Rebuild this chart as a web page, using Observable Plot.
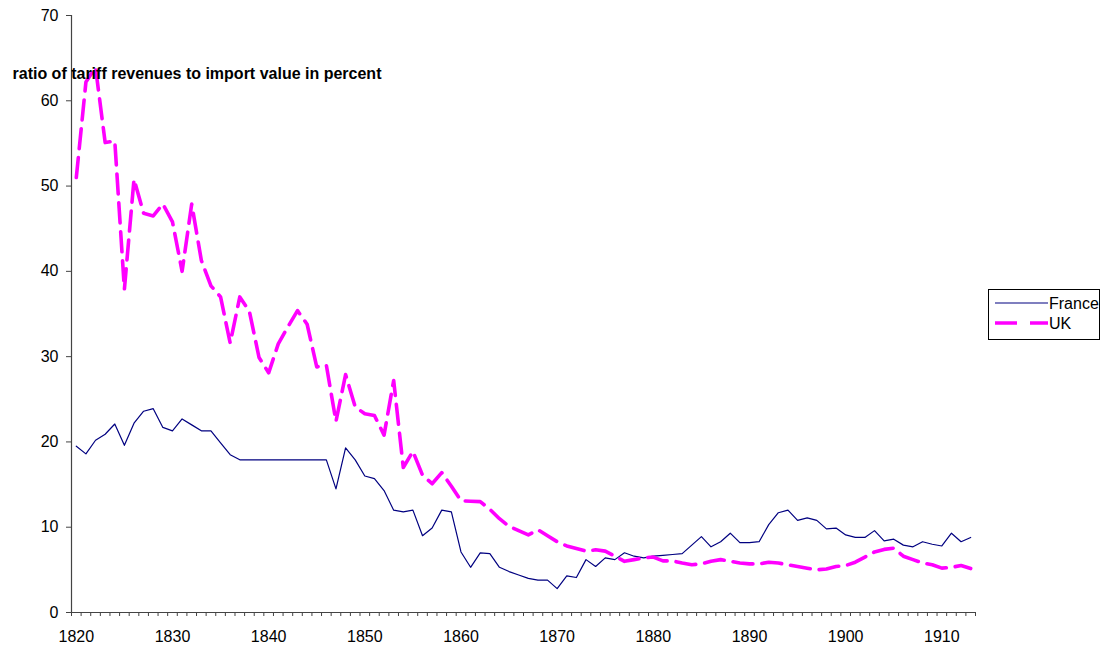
<!DOCTYPE html>
<html>
<head>
<meta charset="utf-8">
<script src="https://cdn.jsdelivr.net/npm/d3@7"></script>
<script src="https://cdn.jsdelivr.net/npm/@observablehq/plot@0.6"></script>
<style>
  html, body { margin: 0; padding: 0; background: #fff; }
  #wrap { position: relative; width: 1102px; height: 648px; font-family: "Liberation Sans", Arial, sans-serif; }
  #legend { position: absolute; left: 988px; top: 289px; width: 112px; height: 51px; border: 1px solid #000; box-sizing: border-box; background: #fff; }
</style>
</head>
<body>
<div id="wrap"></div>
<script>
const years = d3.range(1820, 1914);
const france = [
  19.5, 18.6, 20.2, 20.9, 22.1, 19.6, 22.2, 23.6, 23.9, 21.7,
  21.3, 22.7, 22.0, 21.3, 21.3, 19.9, 18.5, 17.9, 17.9, 17.9,
  17.9, 17.9, 17.9, 17.9, 17.9, 17.9, 17.9, 14.5, 19.3, 17.9,
  16.0, 15.7, 14.3, 12.0, 11.8, 12.0, 9.0, 9.9, 12.0, 11.8,
  7.1, 5.3, 7.0, 6.9, 5.3, 4.8, 4.4, 4.0, 3.8, 3.8,
  2.8, 4.3, 4.1, 6.2, 5.4, 6.4, 6.2, 7.0, 6.6, 6.4,
  6.6, 6.7, 6.8, 6.9, 7.9, 8.9, 7.7, 8.3, 9.3, 8.2,
  8.2, 8.3, 10.3, 11.7, 12.0, 10.8, 11.1, 10.8, 9.8, 9.9,
  9.1, 8.8, 8.8, 9.6, 8.4, 8.6, 7.9, 7.7, 8.3, 8.0,
  7.8, 9.3, 8.3, 8.8
];
const uk = [
  51.0, 62.2, 63.9, 55.1, 55.3, 37.9, 50.8, 46.8, 46.5, 47.9,
  45.8, 40.0, 47.9, 41.3, 38.3, 37.0, 31.6, 37.0, 35.3, 29.9,
  28.1, 31.5, 33.5, 35.4, 33.8, 28.8, 29.0, 22.4, 27.9, 24.1,
  23.3, 23.1, 20.8, 27.2, 17.0, 18.9, 16.1, 15.1, 16.4, 14.8,
  13.1, 13.05, 13.0, 12.1, 11.0, 10.1, 9.6, 9.1, 9.7, 9.0,
  8.3, 7.8, 7.5, 7.2, 7.35, 7.2, 6.6, 6.0, 6.2, 6.4,
  6.5, 6.05, 6.05, 5.8, 5.6, 5.7, 6.0, 6.2, 6.0, 5.8,
  5.7, 5.7, 5.9, 5.8, 5.6, 5.4, 5.2, 5.0, 5.1, 5.4,
  5.5, 5.9, 6.5, 7.1, 7.4, 7.55, 6.6, 6.2, 5.8, 5.6,
  5.2, 5.3, 5.5, 5.15
];
const yTicks = [0, 10, 20, 30, 40, 50, 60, 70];
const xLabels = [1820, 1830, 1840, 1850, 1860, 1870, 1880, 1890, 1900, 1910];
const yLabel = "ratio of tariff revenues to import value in percent";
const seriesNames = ["France", "UK"];

const franceData = years.map((y, i) => ({year: y, value: france[i]}));
const ukData = years.map((y, i) => ({year: y, value: uk[i]}));
const boundaries = d3.range(1819.5, 1914, 1);

const FONT = "Liberation Sans, Arial, sans-serif";
const AXIS = "#444";
const chart = Plot.plot({
  width: 1102,
  height: 648,
  marginLeft: 71,
  marginRight: 127,
  marginTop: 15,
  marginBottom: 36,
  style: {fontFamily: FONT, fontSize: "16px", color: "#000", background: "#fff", overflow: "visible"},
  x: {type: "linear", domain: [1819.5, 1913.5], axis: null},
  y: {type: "linear", domain: [0, 70], axis: null},
  marks: [
    // y axis
    Plot.ruleX([1819.5], {y1: 0, y2: 70, stroke: AXIS, strokeWidth: 1.2}),
    Plot.axisY({ticks: yTicks, tickSize: 5, tickPadding: 8, stroke: AXIS, fontSize: 16, label: null, tickFormat: d => d, anchor: "left"}),
    // x axis
    Plot.ruleY([0], {stroke: AXIS, strokeWidth: 1.2}),
    Plot.axisX({ticks: boundaries, tickSize: 4, tickFormat: () => "", stroke: AXIS, label: null, anchor: "bottom"}),
    Plot.axisX({ticks: xLabels, tickSize: 0, tickPadding: 18, fontSize: 16, label: null, tickFormat: d => String(d), anchor: "bottom"}),
    // data
    Plot.line(franceData, {x: "year", y: "value", stroke: "#000080", strokeWidth: 1.2}),
    Plot.line(ukData, {x: "year", y: "value", stroke: "#FF00FF", strokeWidth: 3.6, strokeDasharray: "20,9"}),
    // axis title
    Plot.text([yLabel], {frameAnchor: "top-left", dx: -59, dy: 58, text: d => d, textAnchor: "start", lineAnchor: "middle", fontWeight: "bold", fontSize: 16, fill: "#000"})
  ]
});
document.getElementById("wrap").appendChild(chart);

const legend = document.createElement("div");
legend.id = "legend";
legend.innerHTML = `
<svg width="112" height="51" style="position:absolute;left:-1px;top:-1px;font-family:${FONT};font-size:16px">
  <line x1="7" x2="60" y1="14" y2="14" stroke="#000080" stroke-width="1.2"></line>
  <text x="61" y="14" dy="0.35em" fill="#000">${seriesNames[0]}</text>
  <line x1="7" x2="60" y1="34" y2="34" stroke="#FF00FF" stroke-width="3.6" stroke-dasharray="22,13"></line>
  <text x="61" y="34" dy="0.35em" fill="#000">${seriesNames[1]}</text>
</svg>`;
document.getElementById("wrap").appendChild(legend);
</script>
</body>
</html>
